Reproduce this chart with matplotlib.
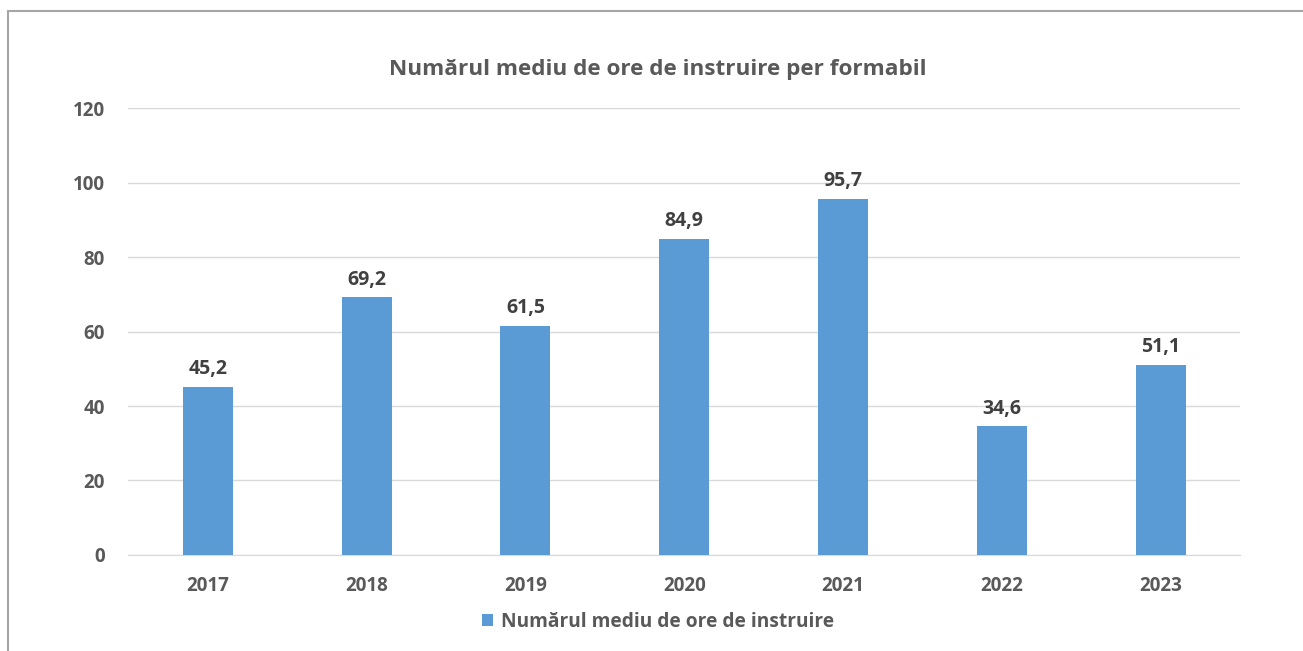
import matplotlib.pyplot as plt
from matplotlib.patches import Rectangle

years = ['2017', '2018', '2019', '2020', '2021', '2022', '2023']
hours = [45.2, 69.2, 61.5, 84.9, 95.7, 34.6, 51.1]
yticks = [0, 20, 40, 60, 80, 100, 120]

title = 'Numărul mediu de ore de instruire per formabil'
series_name = 'Numărul mediu de ore de instruire'

plt.rcParams['font.family'] = ['Open Sans', 'DejaVu Sans']

fig = plt.figure(figsize=(13.03, 6.51), dpi=100)
ax = fig.add_axes([0.0985, 0.1475, 0.8532, 0.6865])

# chenarul graficului
fig.patches.append(Rectangle((8 / 1303, -0.05), 1.1, 1 - 11 / 651 + 0.05,
                             transform=fig.transFigure, fill=False,
                             edgecolor='#A6A6A6', linewidth=1.5))

x = range(len(years))
bars = ax.bar(x, hours, width=0.315, color='#5B9BD5', label=series_name, zorder=3)

for xi, v in zip(x, hours):
    ax.text(xi, v + 2.0, f'{v:.1f}'.replace('.', ','), ha='center', va='bottom',
            fontsize=14, fontweight='bold', color='#404040')

ax.set_xlim(-0.5, len(years) - 0.5)
ax.set_ylim(0, 120)
ax.set_yticks(yticks)
ax.set_xticks(list(x))
ax.set_xticklabels(years)
ax.grid(axis='y', color='#D9D9D9', linewidth=1, zorder=0)
for s in ['top', 'right', 'left']:
    ax.spines[s].set_visible(False)
ax.spines['bottom'].set_color('#D9D9D9')
ax.tick_params(length=0, labelsize=13.5, colors='#595959', pad=15)
ax.tick_params(axis='y', pad=17)
for lbl in ax.get_xticklabels() + ax.get_yticklabels():
    lbl.set_fontweight('bold')

fig.text(0.505, 1 - 70 / 651, title, ha='center', va='center',
         fontsize=16.2, fontweight='bold', color='#595959')

fig.legend(loc='center', bbox_to_anchor=(0.505, 1 - 622 / 651), frameon=False,
           prop={'size': 13.8, 'weight': 'bold'}, labelcolor='#595959',
           handlelength=0.6, handleheight=0.6, handletextpad=0.4)

fig.savefig('out.png', dpi=100)
